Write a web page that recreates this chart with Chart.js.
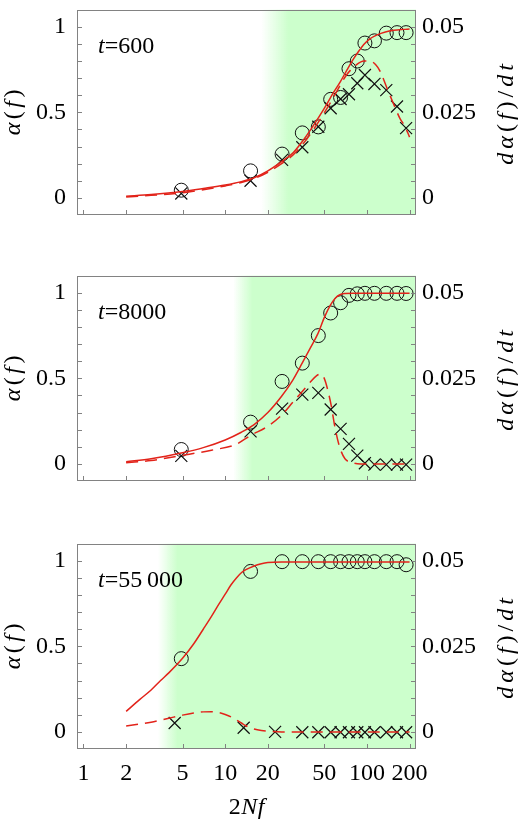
<!DOCTYPE html>
<html>
<head>
<meta charset="utf-8">
<script src="https://cdn.jsdelivr.net/npm/chart.js@4.4.1/dist/chart.umd.min.js"></script>
<style>
  html, body { margin: 0; padding: 0; background: #fff; }
  #wrap { position: relative; width: 531px; height: 829px; }
  #wrap canvas { position: absolute; left: 0; }
</style>
</head>
<body>
<div id="wrap">
  <canvas id="p1" width="531" height="262" style="top:0px"></canvas>
  <canvas id="p2" width="531" height="262" style="top:266px"></canvas>
  <canvas id="p3" width="531" height="295" style="top:534px"></canvas>
</div>
<script>
// axis ticks
const xTicks = [1, 2, 5, 10, 20, 50, 100, 200]
const yTicks = [0, 0.5, 1]
const y2Ticks = [0, 0.025, 0.05]
const yMinor = [0, 0.1, 0.2, 0.3, 0.4, 0.5, 0.6, 0.7, 0.8, 0.9, 1]

// simulation points (2Nf)
const ptsX = [4.9, 15.1, 25.2, 35, 45.4, 55.5, 65.2, 74.7, 85.5, 96.8, 113, 137, 163, 189]
const ptsX3 = [4.4, 13.5, 22.5, 35, 45.4, 55.5, 65.2, 74.7, 85.5, 96.8, 113, 137, 163, 189]

// t = 600
const alpha1 = [0.045, 0.158, 0.256, 0.38, 0.415, 0.576, 0.587, 0.755, 0.80, 0.905, 0.918, 0.963, 0.966, 0.966]
const rate1 = [0.0013, 0.0050, 0.0111, 0.0148, 0.0208, 0.0262, 0.0289, 0.0303, 0.0335, 0.0359, 0.0333, 0.0315, 0.0267, 0.0204]
const fitX1 = [2, 3, 5, 7, 10, 13, 16, 20, 25, 30, 35, 40, 46, 52, 58, 65, 72, 80, 88, 95, 105, 118, 135, 155, 180, 200]
const fitAlpha1 = [0.01, 0.02, 0.038, 0.055, 0.075, 0.095, 0.118, 0.158, 0.212, 0.262, 0.33, 0.398, 0.475, 0.547, 0.615, 0.68, 0.745, 0.81, 0.86, 0.897, 0.93, 0.953, 0.97, 0.98, 0.985, 0.987]
const fitRX1 = [2, 3, 5, 7, 10, 13, 16, 20, 25, 30, 35, 42, 52, 62, 72, 85, 95, 105, 115, 124, 138, 154, 172, 185, 200]
const fitRate1 = [0.00025, 0.00075, 0.0015, 0.0024, 0.0035, 0.0045, 0.00565, 0.0075, 0.01, 0.0125, 0.0155, 0.02, 0.026, 0.0315, 0.036, 0.039, 0.04, 0.04, 0.039, 0.037, 0.03225, 0.0275, 0.023, 0.021, 0.01775]

// t = 8000
const alpha2 = [0.084, 0.244, 0.482, 0.589, 0.75, 0.882, 0.942, 0.985, 0.994, 0.997, 0.997, 0.997, 0.997, 0.996]
const rate2 = [0.00235, 0.0095, 0.01615, 0.02025, 0.02075, 0.0159, 0.01025, 0.00585, 0.0024, 0.0002, -0.0002, -0.0002, -0.0002, -0.0002]
const fitX2 = [2, 3, 5, 7, 10, 13, 16, 20, 25, 30, 35, 40, 45, 50, 55, 60, 65, 70, 80, 100, 150, 200]
const fitAlpha2 = [0.013, 0.03, 0.065, 0.095, 0.14, 0.185, 0.23, 0.30, 0.395, 0.49, 0.59, 0.68, 0.76, 0.855, 0.925, 0.97, 0.99, 0.996, 0.997, 0.997, 0.997, 0.997]
const fitRX2 = [2, 3, 5, 8, 12, 15, 20, 25, 30, 36, 40, 44, 47, 50, 53, 56, 59, 62, 65, 70, 78, 90, 120, 200]
const fitRate2 = [0.00035, 0.001, 0.0025, 0.004, 0.00575, 0.00825, 0.011, 0.01425, 0.018, 0.02175, 0.024, 0.02575, 0.02625, 0.025, 0.0215, 0.017, 0.0115, 0.00725, 0.00425, 0.0015, 0.0004, 0, 0, 0]

// t = 55 000
const alpha3 = [0.428, 0.938, 0.995, 0.995, 0.995, 0.995, 0.995, 0.995, 0.995, 0.995, 0.995, 0.995, 0.995, 0.977]
const rate3 = [0.0026, 0.0012, 0, -0.0001, -0.0001, -0.0001, -0.0001, -0.0001, -0.0001, -0.0001, -0.0001, -0.0001, -0.0001, -0.0001]
const fitX3 = [2, 2.5, 3, 3.5, 4, 5, 6, 7, 8, 9, 10, 11, 12, 13, 14, 16, 18, 20, 25, 30, 50, 100, 200]
const fitAlpha3 = [0.12, 0.19, 0.245, 0.3, 0.345, 0.43, 0.515, 0.6, 0.675, 0.745, 0.805, 0.86, 0.9, 0.93, 0.948, 0.97, 0.983, 0.99, 0.993, 0.993, 0.993, 0.993, 0.993]
const fitRX3 = [2, 3, 4, 5, 6, 7, 8, 9, 10, 11, 12, 13, 14, 16, 18, 20, 25, 200]
const fitRate3 = [0.0017, 0.00285, 0.004, 0.0049, 0.0055, 0.00585, 0.0059, 0.00565, 0.0051, 0.0044, 0.0035, 0.0026, 0.0018, 0.00085, 0.0004, 0.0002, 0, 0]

// green region: fade-in range in 2Nf
const shade1 = [18, 28]
const shade2 = [11.4, 15.5]
const shade3 = [3.35, 4.6]

const RED = '#e2231a'
const SERIF = '"Liberation Serif", "Times New Roman", serif'

function pairs(xs, ys) {
  return xs.map((x, i) => ({ x: x, y: ys[i] }))
}

function drawParts(ctx, parts, x, y, gap, size) {
  const widths = parts.map(p => {
    ctx.font = (p[1] ? 'italic ' : '') + size + 'px ' + SERIF
    return ctx.measureText(p[0]).width
  })
  const total = widths.reduce((a, b) => a + b, 0) + gap * (parts.length - 1)
  let cx = x - total / 2
  parts.forEach((p, i) => {
    ctx.font = (p[1] ? 'italic ' : '') + size + 'px ' + SERIF
    ctx.fillText(p[0], cx, y)
    cx += widths[i] + gap
  })
}

const panelDecor = {
  id: 'panelDecor',
  beforeDatasetsDraw(chart, args, opts) {
    const { ctx, chartArea: a, scales } = chart
    const x0 = scales.x.getPixelForValue(opts.shade[0])
    const x1 = scales.x.getPixelForValue(opts.shade[1])
    const g = ctx.createLinearGradient(x0, 0, x1, 0)
    g.addColorStop(0, 'rgba(204,255,204,0)')
    g.addColorStop(1, 'rgba(204,255,204,1)')
    ctx.save()
    ctx.fillStyle = g
    ctx.fillRect(x0, a.top, a.right - x0, a.bottom - a.top)
    ctx.restore()
  },
  afterDraw(chart, args, opts) {
    const { ctx, chartArea: a, scales } = chart
    ctx.save()
    ctx.strokeStyle = '#828282'
    ctx.lineWidth = 1
    ctx.strokeRect(Math.round(a.left) + 0.5, Math.round(a.top) + 0.5, Math.round(a.right - a.left) - 1, Math.round(a.bottom - a.top) - 1)
    ctx.beginPath()
    yMinor.forEach(v => {
      const y = Math.round(scales.y.getPixelForValue(v)) + 0.5
      ctx.moveTo(a.left, y); ctx.lineTo(a.left + 5, y)
      ctx.moveTo(a.right - 5, y); ctx.lineTo(a.right, y)
    })
    xTicks.forEach(v => {
      const x = Math.round(scales.x.getPixelForValue(v)) + 0.5
      ctx.moveTo(x, a.bottom); ctx.lineTo(x, a.bottom - 5)
    })
    ctx.stroke()

    ctx.fillStyle = '#000'
    ctx.textBaseline = 'alphabetic'
    ctx.textAlign = 'left'
    ctx.font = 'italic 24px ' + SERIF
    const tx = a.left + 21
    const ty = a.top + 43
    ctx.fillText('t', tx, ty)
    const tw = ctx.measureText('t').width
    ctx.font = '24px ' + SERIF
    ctx.fillText('=' + opts.time, tx + tw, ty)

    const cy = (a.top + a.bottom) / 2
    ctx.save()
    ctx.translate(20, cy)
    ctx.rotate(-Math.PI / 2)
    drawParts(ctx, [['α', 1], ['(', 0], ['f', 1], [')', 0]], 0, 0, 3.5, 24)
    ctx.restore()
    ctx.save()
    ctx.translate(513, cy + 2)
    ctx.rotate(-Math.PI / 2)
    drawParts(ctx, [['d', 1], ['α', 1], ['(', 0], ['f', 1], [')', 0], ['/', 0], ['d', 1], ['t', 1]], 0, 0, 4, 24)
    ctx.restore()

    if (opts.xTitle) {
      drawParts(ctx, [['2', 0], ['N', 1], ['f', 1]], (a.left + a.right) / 2, a.bottom + 65, 0.5, 24)
    }
    ctx.restore()
  }
}

function makePanel(id, cfg) {
  const el = document.getElementById(id)
  const H = el.height
  const tickFont = { family: SERIF, size: 24 }
  return new Chart(el, {
    type: 'line',
    data: {
      datasets: [
        { data: pairs(cfg.fitX, cfg.fitAlpha), yAxisID: 'y', borderColor: RED, borderWidth: 1.5, pointRadius: 0, cubicInterpolationMode: 'monotone', fill: false, order: 1 },
        { data: pairs(cfg.fitRX, cfg.fitRate), yAxisID: 'y2', borderColor: RED, borderWidth: 1.5, borderDash: [12, 7], pointRadius: 0, cubicInterpolationMode: 'monotone', fill: false, order: 2 },
        { data: pairs(ptsX, cfg.alpha), yAxisID: 'y', showLine: false, pointStyle: 'circle', pointRadius: 7, pointBorderWidth: 1, pointBorderColor: '#111', pointBackgroundColor: 'rgba(0,0,0,0)', order: 3 },
        { data: pairs(cfg.rateX, cfg.rate), yAxisID: 'y2', showLine: false, pointStyle: 'crossRot', pointRadius: 8.5, pointBorderWidth: 1.2, pointBorderColor: '#111', order: 4 }
      ]
    },
    options: {
      responsive: false,
      animation: false,
      devicePixelRatio: 1,
      layout: { padding: { top: 2, left: 0, right: 0, bottom: 0 } },
      plugins: {
        legend: { display: false },
        tooltip: { enabled: false },
        panelDecor: { shade: cfg.shade, time: cfg.time, xTitle: cfg.xTitle }
      },
      scales: {
        x: {
          type: 'logarithmic',
          min: 0.9,
          max: 222,
          grid: { display: false, drawTicks: false },
          border: { display: false },
          ticks: {
            display: cfg.xLabels,
            padding: 10,
            autoSkip: false,
            maxRotation: 0,
            color: '#000',
            font: tickFont,
            callback: v => String(v)
          },
          afterBuildTicks: s => { s.ticks = xTicks.map(v => ({ value: v })) },
          afterFit: s => { s.height = H - 2 - 213; s.paddingLeft = 0; s.paddingRight = 0 }
        },
        y: {
          position: 'left',
          min: -0.1,
          max: 1.1,
          grid: { display: false, drawTicks: false },
          border: { display: false },
          ticks: { padding: 11, color: '#000', font: tickFont, callback: v => String(v) },
          afterBuildTicks: s => { s.ticks = yTicks.map(v => ({ value: v })) },
          afterFit: s => { s.width = 77; s.paddingTop = 0; s.paddingBottom = 0 }
        },
        y2: {
          position: 'right',
          min: -0.005,
          max: 0.055,
          grid: { display: false, drawTicks: false },
          border: { display: false },
          ticks: { padding: 6, color: '#000', font: tickFont, callback: v => String(v) },
          afterBuildTicks: s => { s.ticks = y2Ticks.map(v => ({ value: v })) },
          afterFit: s => { s.width = 115; s.paddingTop = 0; s.paddingBottom = 0 }
        }
      }
    },
    plugins: [panelDecor]
  })
}

function drawAll() {
  makePanel('p1', { fitX: fitX1, fitAlpha: fitAlpha1, fitRX: fitRX1, fitRate: fitRate1, alpha: alpha1, rateX: ptsX, rate: rate1, shade: shade1, time: '600', xLabels: false, xTitle: false })
  makePanel('p2', { fitX: fitX2, fitAlpha: fitAlpha2, fitRX: fitRX2, fitRate: fitRate2, alpha: alpha2, rateX: ptsX, rate: rate2, shade: shade2, time: '8000', xLabels: false, xTitle: false })
  makePanel('p3', { fitX: fitX3, fitAlpha: fitAlpha3, fitRX: fitRX3, fitRate: fitRate3, alpha: alpha3, rateX: ptsX3, rate: rate3, shade: shade3, time: '55\u2009000', xLabels: true, xTitle: true })
}

Promise.all([
  document.fonts.load('24px "Liberation Serif"'),
  document.fonts.load('italic 24px "Liberation Serif"')
]).then(drawAll, drawAll)
</script>
</body>
</html>
